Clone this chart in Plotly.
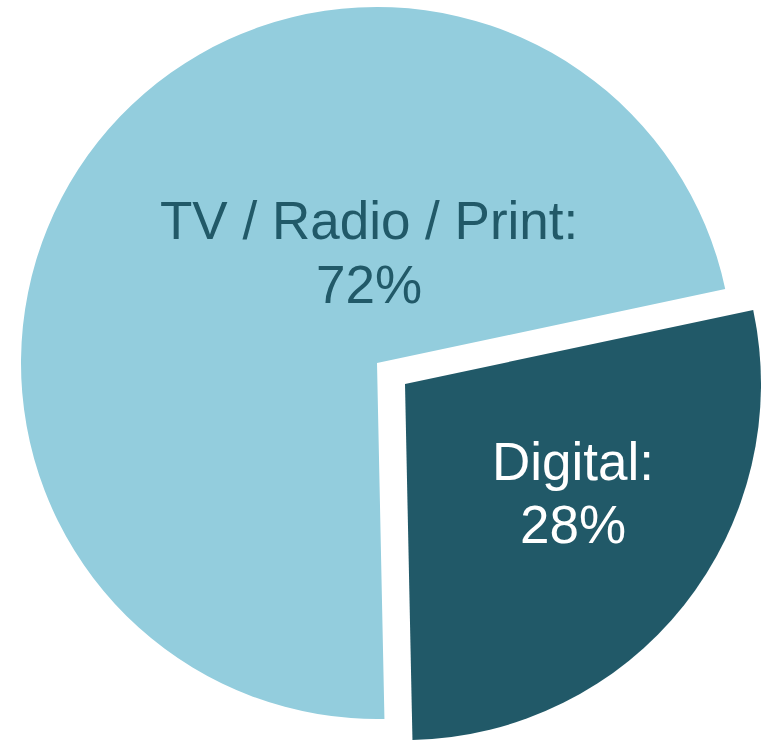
import plotly.graph_objects as go

# Media spend share
labels = ["Digital", "TV / Radio / Print"]
values = [28, 72]

# Palette
light = "#93CDDD"
dark = "#215968"
clear = "rgba(0,0,0,0)"

W, H = 766, 740
R = 356            # pie radius in px
main_c = (377, 363)    # centre of the whole pie
out_c = (405, 384)     # centre of the pulled-out Digital slice


def domain(c, r):
    cx, cy = c
    return dict(x=[(cx - r) / W, (cx + r) / W],
                y=[1 - (cy + r) / H, 1 - (cy - r) / H])


common = dict(labels=labels, values=values, sort=False, direction="clockwise",
              rotation=78, textinfo="none", hoverinfo="label+percent",
              showlegend=False)

fig = go.Figure()
# Remaining slice drawn at the pie's own centre
fig.add_trace(go.Pie(**common, domain=domain(main_c, R),
                     marker=dict(colors=[clear, light], line=dict(width=0))))
# Digital slice, offset outward along its bisector
fig.add_trace(go.Pie(**common, domain=domain(out_c, R),
                     marker=dict(colors=[dark, clear], line=dict(width=0))))

font = "Liberation Sans, Arial, sans-serif"


def label(x, y, text, color):
    fig.add_annotation(x=x / W, y=1 - y / H, xref="paper", yref="paper",
                       text=text, showarrow=False, xanchor="center",
                       yanchor="middle",
                       font=dict(family=font, size=53, color=color))


# TV / Radio / Print label
label(369, 221, f"{labels[1]}:", dark)
label(369, 284, f"{values[1]}%", dark)
# Digital label
label(573, 461, f"{labels[0]}:", "white")
label(573, 524, f"{values[0]}%", "white")

fig.update_layout(width=W, height=H, margin=dict(l=0, r=0, t=0, b=0),
                  paper_bgcolor="white", plot_bgcolor="white")

fig.write_html("out.html")
